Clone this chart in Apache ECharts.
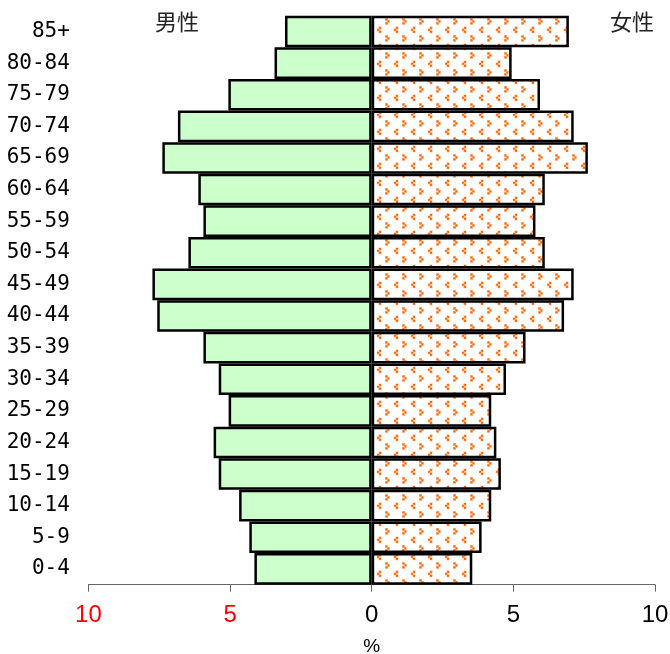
<!DOCTYPE html>
<html>
<head>
<meta charset="utf-8">
<script src="https://cdn.jsdelivr.net/npm/echarts@6/dist/echarts.min.js"></script>
<style>
html,body{margin:0;padding:0;background:#fff;}
#chart{width:670px;height:654px;}
</style>
</head>
<body>
<div id="chart"></div>
<script>
const ageGroups = ['0-4','5-9','10-14','15-19','20-24','25-29','30-34','35-39','40-44','45-49','50-54','55-59','60-64','65-69','70-74','75-79','80-84','85+'];
const maleValues = [4.14,4.32,4.68,5.40,5.58,5.05,5.40,5.94,7.57,7.74,6.47,5.94,6.12,7.39,6.84,5.06,3.43,3.06];
const femaleValues = [3.55,3.88,4.22,4.56,4.40,4.22,4.74,5.43,6.79,7.13,6.11,5.78,6.11,7.63,7.13,5.94,4.94,6.96];
const xTicks = [-10,-5,0,5,10];
const sexLabels = ['男性','女性'];

function makePattern(){
  const c = document.createElement('canvas');
  c.width = 17; c.height = 17;
  const g = c.getContext('2d');
  g.fillStyle = '#ffffff';
  g.fillRect(0,0,17,17);
  function dot(x,y){
    g.fillStyle = '#ffc09a';
    g.fillRect(x-0.5,y-0.5,3,3);
    g.fillStyle = '#ff6600';
    g.fillRect(x,y,2,2);
  }
  // ">" shape
  dot(11.5,1.5); dot(13.3,3.4); dot(11.5,5.3);
  // "<" shape
  dot(5,10); dot(3.2,11.9); dot(5,13.8);
  return c;
}

const chart = echarts.init(document.getElementById('chart'), null, {renderer:'canvas'});
const option = {
  animation:false,
  backgroundColor:'#ffffff',
  grid:{left:88.4,right:15,top:15.7,bottom:69.3,containLabel:false,outerBoundsMode:'none'},
  xAxis:{
    type:'value',
    min:xTicks[0], max:xTicks[xTicks.length-1], interval:5,
    name:'%', nameLocation:'middle', nameGap:53,
    nameTextStyle:{fontFamily:'Liberation Sans', fontSize:19, color:'#000'},
    axisLine:{show:true, onZero:false, lineStyle:{color:'#666', width:1}},
    axisTick:{show:true, length:7, lineStyle:{color:'#666', width:1}},
    axisLabel:{
      margin:19,
      fontFamily:'Liberation Sans', fontSize:24,
      formatter:function(v){return String(Math.abs(v));},
      color:function(v){return Number(v) < 0 ? '#ff0000' : '#000000';}
    },
    splitLine:{show:false}
  },
  yAxis:{
    type:'category',
    data:ageGroups,
    axisLine:{show:false},
    axisTick:{show:false},
    axisLabel:{margin:18.5, fontFamily:'DejaVu Sans Mono', fontSize:21, color:'#000'},
    splitLine:{show:false}
  },
  series:[
    {
      name:sexLabels[0], type:'bar',
      data:maleValues.map(v=>-v),
      barGap:'-100%', barCategoryGap:'0%',
      itemStyle:{color:'#ccffcc', borderColor:'#000', borderWidth:2.5}
    },
    {
      name:sexLabels[1], type:'bar',
      data:femaleValues,
      barGap:'-100%', barCategoryGap:'0%',
      itemStyle:{color:{image:makePattern(), repeat:'repeat'}, borderColor:'#000', borderWidth:2.5}
    }
  ],
  graphic:[
    {type:'text', left:155, top:11, style:{text:sexLabels[0], font:'22px "Noto Sans CJK JP"', fill:'#222'}},
    {type:'text', left:610, top:11, style:{text:sexLabels[1], font:'22px "Noto Sans CJK JP"', fill:'#222'}}
  ]
};
chart.setOption(option);
</script>
</body>
</html>
